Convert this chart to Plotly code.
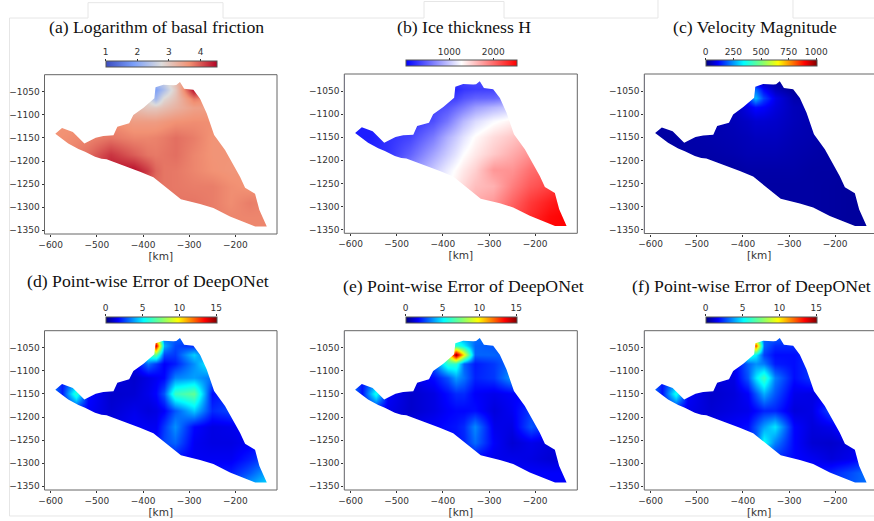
import plotly.graph_objects as go

W, H = 874, 521
grid_x = [-600, -560, -520, -470, -420, -390, -373, -355, -330, -290, -250, -210, -170, -130]
err_x = [-600, -575, -545, -520, -470, -420, -390, -373, -355, -330, -290, -250, -210, -170, -130]
grid_y = [-1025, -1045, -1065, -1085, -1115, -1150, -1185, -1220, -1255, -1290, -1320, -1350]

boundary_x = [-590, -575.5, -552, -527, -502.5, -486, -464, -455.6, -430, -421, -399, -375.5, -373, -356, -334, -328,
              -320, -311, -291, -276.5, -262, -246, -222.4, -204, -190, -179, -157.4, -148, -132, -157, -175, -211.6,
              -247.6, -276.5, -318, -341, -377.6, -406.5, -442.6, -464, -479, -490, -504, -525.6, -540, -562, -590]
boundary_y = [-1141, -1128.6, -1137, -1162, -1149.5, -1146, -1144.5, -1125.7, -1118.5, -1100.5, -1084.6, -1064.4,
              -1040.6, -1035, -1036, -1035.5, -1029, -1043.5, -1046, -1065, -1097, -1143.7, -1176, -1208.6, -1234,
              -1258, -1271, -1306, -1342, -1342, -1335, -1320, -1302, -1293, -1283, -1264, -1235, -1223, -1210,
              -1203, -1196, -1195, -1190.6, -1180, -1174, -1162, -1141]

friction = [
 [3.5,3.5,3.5,3.4,3.1,2.8,2.4,2.6,3.2,3.9,3.6,3.6,3.6,3.6],
 [3.5,3.5,3.5,3.4,3.1,2.6,1.9,2.3,3.0,4.45,4.2,3.6,3.6,3.6],
 [3.5,3.5,3.5,3.4,3.1,2.8,2.2,2.8,3.1,3.75,3.6,3.6,3.6,3.6],
 [3.6,3.6,3.5,3.4,3.15,3.0,3.0,3.1,3.25,3.45,3.5,3.6,3.6,3.6],
 [3.6,3.6,3.6,3.65,3.5,3.5,3.5,3.55,3.62,3.65,3.65,3.6,3.6,3.6],
 [3.6,3.65,3.7,3.8,3.7,3.7,3.72,3.76,3.84,3.75,3.6,3.6,3.6,3.6],
 [3.7,3.7,3.85,4.2,3.95,3.8,3.77,3.8,3.84,3.7,3.6,3.6,3.6,3.6],
 [3.7,3.8,4.0,4.4,4.45,4.15,3.9,3.8,3.78,3.7,3.62,3.58,3.6,3.6],
 [3.7,3.8,4.0,4.35,4.35,3.95,3.85,3.8,3.78,3.75,3.75,3.65,3.6,3.65],
 [3.7,3.8,3.9,3.95,3.95,3.85,3.85,3.8,3.8,3.8,3.75,3.65,3.75,3.7],
 [3.7,3.8,3.9,3.9,3.9,3.85,3.85,3.8,3.8,3.8,3.75,3.7,3.7,3.7],
 [3.7,3.8,3.9,3.9,3.9,3.85,3.85,3.8,3.8,3.8,3.75,3.7,3.7,3.7],
]
thickness = [
 [100,100,100,200,300,300,300,350,380,420,500,600,700,800],
 [100,100,100,200,300,280,200,280,320,330,500,700,800,900],
 [100,100,150,250,300,300,320,420,500,520,650,850,950,1050],
 [100,150,200,300,350,420,520,620,780,900,1000,1200,1300,1400],
 [150,150,200,250,400,600,760,920,1090,1240,1340,1480,1650,1750],
 [150,150,250,350,620,880,1000,1130,1290,1440,1550,1680,1800,1900],
 [200,200,250,500,820,1020,1130,1260,1380,1530,1680,1820,1920,2000],
 [300,300,400,700,1000,1180,1280,1380,1500,1780,1800,1980,2080,2200],
 [400,400,500,800,1150,1280,1350,1460,1590,1650,1900,2090,2200,2320],
 [600,600,700,900,1250,1400,1450,1540,1680,1780,2030,2240,2380,2480],
 [700,700,800,1000,1350,1500,1550,1650,1800,1950,2120,2310,2470,2524],
 [800,800,900,1100,1450,1600,1650,1750,1900,2050,2200,2400,2500,2524],
]
velocity = [
 [30,30,30,30,30,30,40,30,25,20,20,20,20,20],
 [30,30,30,30,30,80,200,110,50,20,20,20,20,20],
 [30,30,30,30,40,140,280,170,90,40,30,25,20,20],
 [30,30,30,35,50,90,120,110,80,50,40,30,25,20],
 [30,30,35,40,50,60,70,70,65,50,40,30,25,20],
 [30,30,35,40,45,50,55,55,55,45,40,30,25,20],
 [30,30,35,35,40,45,45,45,45,40,35,30,25,20],
 [30,30,30,30,30,35,35,35,35,35,30,30,25,25],
 [30,30,30,30,30,30,30,30,30,30,30,28,25,25],
 [30,30,30,30,30,30,30,30,30,30,30,28,25,25],
 [30,30,30,30,30,30,30,30,30,30,30,28,25,25],
 [30,30,30,30,30,30,30,30,30,30,28,25,25,25],
]
err_d = [
 [2,2,2,2,2,2,3,8,3,3,3,2,2,2,2],
 [2,2,2,2,2,2,7,14,4,2.6,2.2,1.9,1.5,1.5,1.5],
 [2,2,2,2,1.8,2,6,7,2.6,2.4,4.5,2.2,1.5,1.5,1.5],
 [2,2,2,2,1.5,1.4,3.2,2.4,1.6,2,3.6,5.5,3,2,1.5],
 [3,2,2.5,2,1.3,1,1.3,1.5,1.7,3.4,3.8,3.2,3.5,2,2],
 [4,2,6,1.8,1,1.1,1.4,1.7,2.8,6.2,7,1.8,2.2,2,2],
 [2.5,1.6,1.8,1.6,1.1,1.4,1.2,1.3,1.6,2.8,4.4,2.2,2.6,2.2,2],
 [2,2,2,1.5,1.3,1.6,1.5,1.5,2.4,3.6,1.7,1.3,1.4,1.6,1.6],
 [2,2,2,1.6,1.6,1.6,1.6,1.8,2.6,3,1.5,1.3,1.3,1.5,1.8],
 [1.6,1.6,1.6,1.6,1.6,1.6,1.6,1.6,1.8,1.8,1.5,1.5,1.5,2,2.7],
 [1.6,1.6,1.6,1.6,1.6,1.6,1.6,1.6,1.6,1.8,1.8,1.9,2,2.8,4],
 [1.6,1.6,1.6,1.6,1.6,1.6,1.6,1.6,1.8,1.8,2,2.2,2.4,4,4.8],
]
err_e = [
 [2,2,2,2,2,2,3,4.5,3.5,3.2,3,2,2,2,2],
 [2,2,2,2,2,2,4,6,5,3,2.8,2.2,1.5,1.5,1.5],
 [2,2,2,2,1.8,2.5,8.5,15,10,3,3,2.8,1.5,1.5,1.5],
 [2,2,2,2,1.5,3,6,6,3,2,2.4,3.2,2.2,1.5,1.5],
 [3,2,2.5,1.8,1.3,1.8,2.8,3.8,3.2,2.1,2.4,3.8,2,1.5,1.5],
 [4,1.8,5.5,1.6,1,1.3,1.8,2.2,2.2,1.6,1.4,1.6,1.6,1.4,1.4],
 [2.5,1.6,1.6,1.4,1,1.3,1.6,1.7,1.7,1.8,1.2,1.5,2.4,1.8,1.4],
 [2,2,2,1.6,1.4,1.6,1.8,1.9,2.2,3.5,1.4,1.3,2.8,2,1.6],
 [1.6,1.6,1.6,1.6,1.6,1.6,1.6,1.8,2.1,3.1,1.6,1.1,1.4,1.2,1.3],
 [1.6,1.6,1.6,1.6,1.6,1.6,1.6,1.6,1.6,1.6,1.4,1.4,1.3,1.1,1.3],
 [1.6,1.6,1.6,1.6,1.6,1.6,1.6,1.6,1.6,1.6,1.6,1.6,1.6,1.6,1.6],
 [1.6,1.6,1.6,1.6,1.6,1.6,1.6,1.6,1.6,1.6,1.6,1.6,1.6,1.6,1.6],
]
err_f = [
 [2,2,2,2,2,2,3,5,3,3,2.5,2,1.8,1.8,1.8],
 [2,2,2,2,2,2,5,12.5,3,2.2,2.2,2,1.5,1.5,1.5],
 [2,2,2,2,1.8,2.4,6,5,2.5,1.8,1.8,2.2,1.5,1.5,1.5],
 [2,2,2,2,1.4,1.5,3,3.6,3.3,2,1.8,2.4,1.6,1.5,1.5],
 [3,2,2.5,1.8,1.2,1.3,2.8,4.8,6.3,3.4,1.8,2.4,1.5,1.4,1.4],
 [4,1.8,5.5,1.6,1,1.2,1.6,2.8,4,2.8,1.4,1.3,1.4,1.5,1.4],
 [2.5,1.6,1.6,1.4,1.1,1.3,1.4,1.7,2.1,2.1,1.2,1.3,2.6,2.2,1.6],
 [2,2,2,1.6,1.4,1.6,1.8,2.8,3.8,4.8,1.7,1.2,1.4,2.2,1.6],
 [1.6,1.6,1.6,1.6,1.6,1.6,2,2.8,5.3,3.4,1.7,1.1,1,1.2,1.6],
 [1.6,1.6,1.6,1.6,1.6,1.6,1.6,1.6,2,2.2,1.7,1.5,1.2,1.4,2],
 [1.6,1.6,1.6,1.6,1.6,1.6,1.6,1.6,1.6,1.6,1.6,1.8,2.1,2.6,3.2],
 [1.6,1.6,1.6,1.6,1.6,1.6,1.6,1.6,1.6,1.6,1.6,1.8,2.2,2.8,3.2],
]

titles = ["(a) Logarithm of basal friction", "(b) Ice thickness H", "(c) Velocity Magnitude",
          "(d) Point-wise Error of DeepONet", "(e) Point-wise Error of DeepONet", "(f) Point-wise Error of DeepONet"]
title_pos = [(156, 27), (464, 27), (754.7, 27), (147.5, 281), (464, 286), (751, 286)]
fields = [friction, thickness, velocity, err_d, err_e, err_f]
field_x = [grid_x, grid_x, grid_x, err_x, err_x, err_x]
z_ranges = [(1, 4.5), (10, 2524), (0, 1000), (0, 15), (0, 15), (0, 15)]
cb_ticks = [[1, 2, 3, 4], [1000, 2000], [0, 250, 500, 750, 1000], [0, 5, 10, 15], [0, 5, 10, 15], [0, 5, 10, 15]]
x_ticks = [-600, -500, -400, -300, -200]
y_ticks = [-1050, -1100, -1150, -1200, -1250, -1300, -1350]

coolwarm = [[0, "#3b4cc0"], [0.25, "#7b9ff9"], [0.5, "#dddcdc"], [0.75, "#f29274"], [1, "#b40426"]]
bwr = [[0, "#0000ff"], [0.5, "#ffffff"], [1, "#ff0000"]]
jet = [[0, "#000080"], [0.11, "#0000ff"], [0.34, "#00ffff"], [0.5, "#7cff79"], [0.65, "#ffff00"], [0.89, "#ff0000"], [1, "#800000"]]
scales = [coolwarm, bwr, jet, jet, jet, jet]

# panel frames in pixels: left, right, top, bottom
frames = [(44.5, 277, 74.7, 234), (344.3, 577.3, 74, 233.3), (644.3, 877.3, 74, 233.5),
          (44.5, 277, 330.7, 490), (344.3, 577.3, 330.7, 490), (644.3, 877.3, 330.7, 490)]
bars = [(105.7, 61.7, 67.7), (405.7, 61.3, 67.3), (705.7, 61.3, 67.3),
        (105.7, 317.3, 323.7), (405.7, 317.3, 323.7), (705.7, 317.3, 323.7)]
BAR_LEN = 110.6
KM_PER_PX = 1 / 0.4617
FONT = "DejaVu Sans"
TXT = "#333333"

fig = go.Figure()
for i in range(6):
    n = i + 1
    cb = n + 6
    l, r, t, b = frames[i]
    r_vis = min(r, W)
    xr0 = -600 - 6.2 * KM_PER_PX
    xr1 = xr0 + (r_vis - l) * KM_PER_PX
    yr1 = -1050 + 17 * KM_PER_PX
    yr0 = -1350 - 3.7 * KM_PER_PX
    bx, bt, bb = bars[i]
    fig.add_trace(go.Heatmap(
        x=field_x[i], y=grid_y, z=fields[i], zmin=z_ranges[i][0], zmax=z_ranges[i][1], colorscale=scales[i],
        zsmooth="best", xaxis=f"x{n}", yaxis=f"y{n}", hoverinfo="skip",
        colorbar=dict(orientation="h", x=bx / W, xanchor="left", y=1 - bb / H, yanchor="bottom",
                      len=BAR_LEN, lenmode="pixels", thickness=bb - bt, thicknessmode="pixels",
                      xpad=0, ypad=0, ticks="", showticklabels=False, outlinewidth=1, outlinecolor="#555555"),
    ))
    mask_x = [xr0, xr0, xr1, xr1, xr0, xr0] + boundary_x + [xr0]
    mask_y = [-1141, yr0, yr0, yr1, yr1, -1141] + boundary_y + [-1141]
    fig.add_trace(go.Scatter(x=mask_x, y=mask_y, mode="lines", fill="toself", fillcolor="#ffffff",
                             line=dict(width=0, color="#ffffff"), xaxis=f"x{n}", yaxis=f"y{n}",
                             hoverinfo="skip", showlegend=False))
    axis_common = dict(showgrid=False, zeroline=False, showline=False, ticks="outside", ticklen=2, tickwidth=1,
                       tickcolor=TXT, tickfont=dict(family=FONT, size=9, color=TXT))
    fig.layout[f"xaxis{n}"] = dict(domain=[l / W, r_vis / W], range=[xr0, xr1], tickvals=x_ticks, anchor=f"y{n}",
                                   title=dict(text="[km]", font=dict(family=FONT, size=10.5, color=TXT), standoff=2),
                                   **axis_common)
    fig.layout[f"yaxis{n}"] = dict(domain=[1 - b / H, 1 - t / H], range=[yr0, yr1], tickvals=y_ticks, anchor=f"x{n}",
                                   **axis_common)
    # tick labels above the colour bar, on an axis of their own
    fig.add_trace(go.Scatter(x=[None], y=[None], xaxis=f"x{cb}", yaxis=f"y{cb}", hoverinfo="skip", showlegend=False))
    fig.layout[f"xaxis{cb}"] = dict(domain=[bx / W, (bx + BAR_LEN) / W], range=list(z_ranges[i]), side="top",
                                    tickvals=cb_ticks[i], anchor=f"y{cb}", **axis_common)
    fig.layout[f"yaxis{cb}"] = dict(domain=[1 - bb / H, 1 - bt / H], range=[0, 1], visible=False, anchor=f"x{cb}")
    fig.add_shape(type="rect", xref="paper", yref="paper", x0=l / W, x1=r / W, y0=1 - b / H, y1=1 - t / H,
                  line=dict(color="#666666", width=1), layer="above")
    fig.add_annotation(text=titles[i], xref="paper", yref="paper", x=title_pos[i][0] / W, y=1 - title_pos[i][1] / H,
                       xanchor="center", yanchor="middle", showarrow=False,
                       font=dict(family="Liberation Serif", size=17.7, color="#111111"))

# faint page outline around the panels
outline = [[(9.5, 516), (9.5, 18), (88, 18), (88, 2.7), (223, 2.7), (223, 18), (424, 18), (424, 1.5), (504, 1.5),
            (504, 18), (658, 18), (658, 0)], [(793, 0), (793, 18), (874, 18)], [(9.5, 516), (874, 516)]]
for seg in outline:
    path = "M " + " L ".join(f"{px / W:.5f},{1 - py / H:.5f}" for px, py in seg)
    fig.add_shape(type="path", xref="paper", yref="paper", path=path, line=dict(color="#e6e6e6", width=1), layer="below")

fig.update_layout(width=W, height=H, autosize=False, margin=dict(l=0, r=0, t=0, b=0, autoexpand=False),
                  paper_bgcolor="#ffffff", plot_bgcolor="#ffffff", showlegend=False)
fig.write_html("out.html", config={"displayModeBar": False},
               post_script="document.body.style.margin='0';document.body.style.overflow='hidden';")
